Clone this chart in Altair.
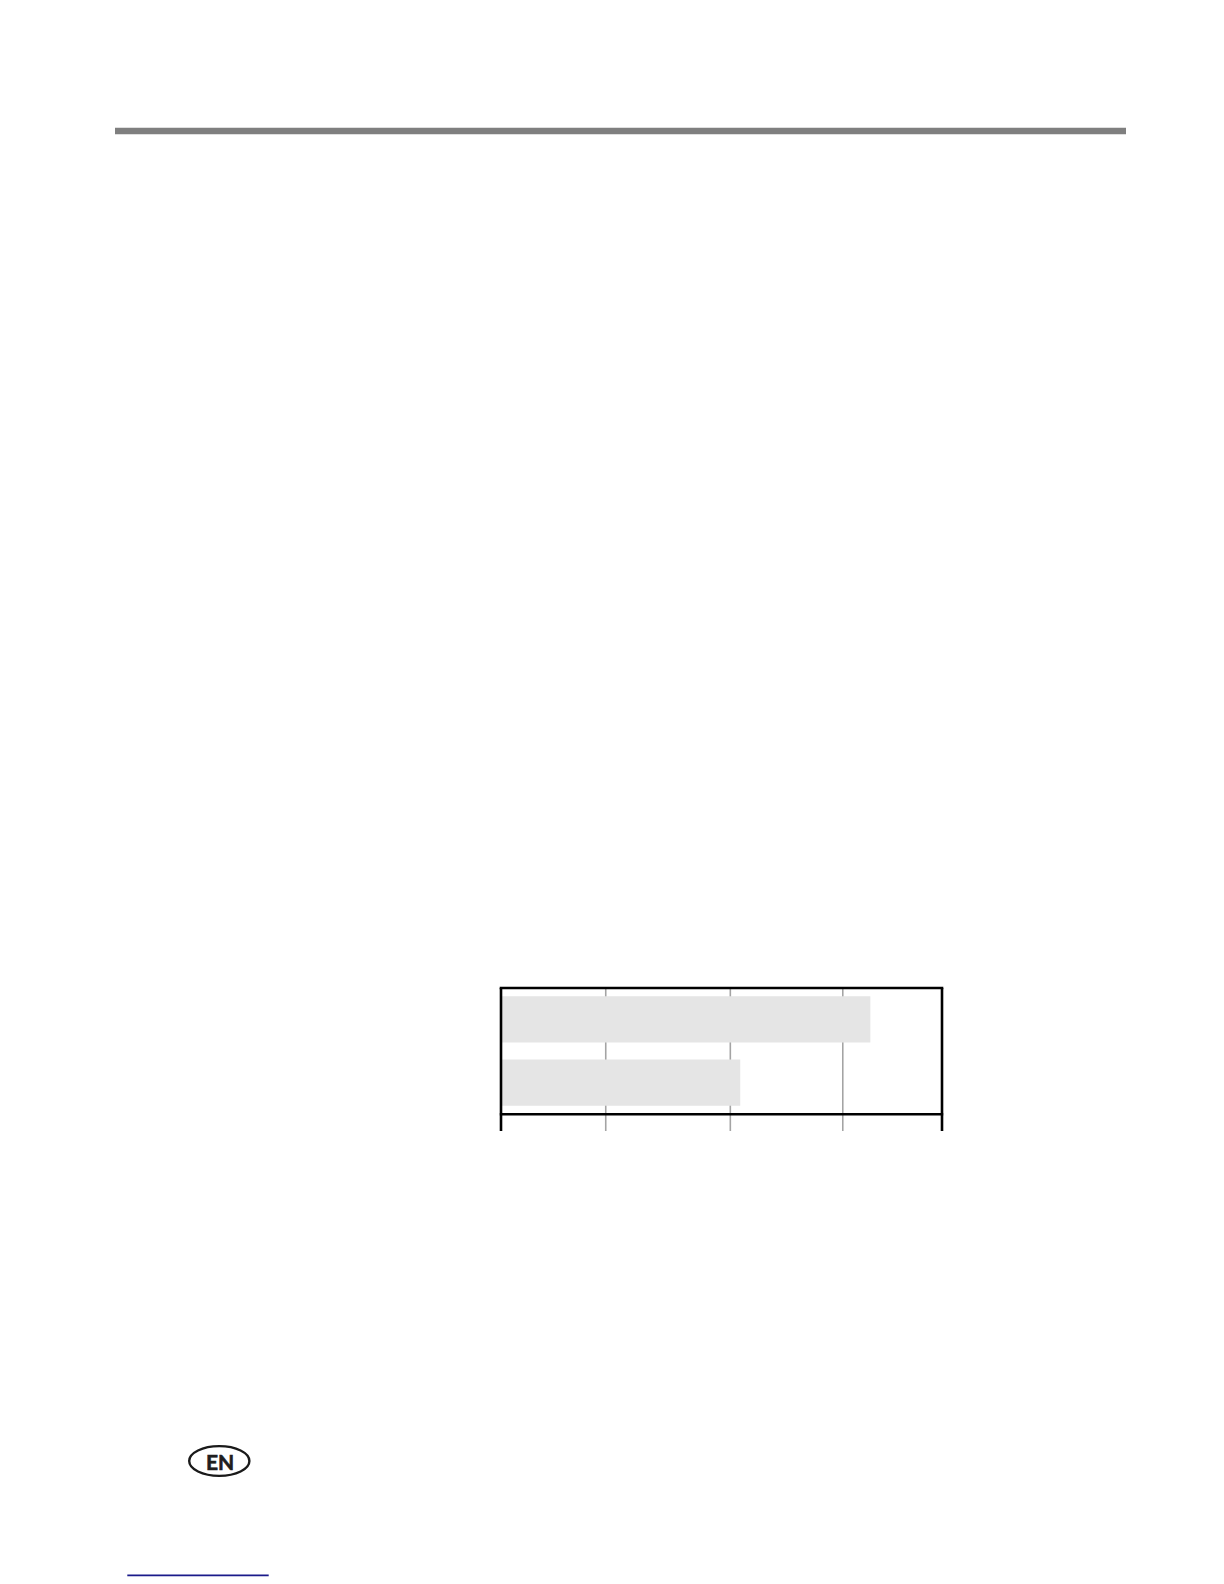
import altair as alt
import pandas as pd

# ---- data ----
categories = ["Bar 1", "Bar 2"]
bar_values = [335, 217]
x_min, x_max = 0, 400
grid_values = [95, 208, 310]
frame_values = [x_min, x_max]

bars_df = pd.DataFrame({"category": categories, "value": bar_values})
grid_df = pd.DataFrame({"v": grid_values})
frame_df = pd.DataFrame({"v": frame_values})
span_df = pd.DataFrame({"lo": [x_min], "hi": [x_max]})
one = pd.DataFrame({"k": [0]})

xscale = alt.Scale(domain=[x_min, x_max], range=[493, 934], nice=False, zero=False)
yscale = alt.Scale(domain=categories, range=[980, 1106], paddingInner=0.27, paddingOuter=0.13)

grid = alt.Chart(grid_df).mark_rule(color="#a4a4a4", strokeWidth=1.6).encode(
    x=alt.X("v:Q", scale=xscale, axis=None),
    y=alt.value(980), y2=alt.value(1123),
)

bars = alt.Chart(bars_df).mark_bar(color="#e5e5e5").encode(
    x=alt.X("value:Q", scale=xscale, axis=None),
    x2=alt.datum(x_min),
    y=alt.Y("category:N", scale=yscale, axis=None, sort=categories),
)

frame_v = alt.Chart(frame_df).mark_rule(color="#000000", strokeWidth=2.6).encode(
    x=alt.X("v:Q", scale=xscale, axis=None),
    y=alt.value(980), y2=alt.value(1123),
)

frame_top = alt.Chart(span_df).mark_rule(color="#000000", strokeWidth=2.6, strokeCap="square").encode(
    x=alt.X("lo:Q", scale=xscale, axis=None), x2="hi:Q", y=alt.value(980),
)
frame_bottom = alt.Chart(span_df).mark_rule(color="#000000", strokeWidth=2.4, strokeCap="square").encode(
    x=alt.X("lo:Q", scale=xscale, axis=None), x2="hi:Q", y=alt.value(1106.2),
)

# ---- page decorations ----
top_rule = alt.Chart(one).mark_rule(color="#7f7f7f", strokeWidth=6.5).encode(
    x=alt.value(107), x2=alt.value(1118), y=alt.value(123),
)

ellipse_path = "M -1 0 A 1 0.493 0 1 0 1 0 A 1 0.493 0 1 0 -1 0 Z"
en_oval = alt.Chart(one).mark_point(
    shape=ellipse_path, size=3624, filled=False, stroke="#1a1a1a", strokeWidth=2.4, opacity=1
).encode(x=alt.value(211.3), y=alt.value(1453))

en_text = alt.Chart(one).mark_text(
    text="EN", font="Lato", fontWeight="bold", fontSize=21, color="#1e1e1e",
    align="center", baseline="alphabetic", stroke="#1e1e1e", strokeWidth=0.6
).encode(x=alt.value(212), y=alt.value(1461.5))

blue_line = alt.Chart(one).mark_rule(color="#1a1a8a", strokeWidth=1.8).encode(
    x=alt.value(119.3), x2=alt.value(260.7), y=alt.value(1567.3),
)

chart = alt.layer(
    grid, bars, frame_v, frame_top, frame_bottom, top_rule, en_oval, en_text, blue_line
).properties(
    width=1208, height=1576, padding=0,
    autosize=alt.AutoSizeParams(type="none"),
).configure_view(strokeWidth=0)

chart.save("out.html", embed_options={"renderer": "svg", "actions": False})
